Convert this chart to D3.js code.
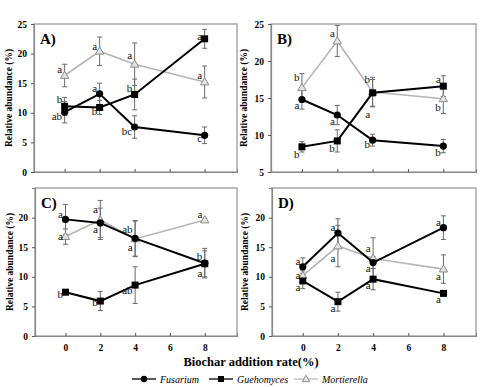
<!DOCTYPE html>
<html>
<head>
<meta charset="utf-8">
<script src="https://cdn.jsdelivr.net/npm/d3@7"></script>
<style>
  body { margin: 0; background: #fff; }
  svg text { font-family: "Liberation Serif", "Times New Roman", serif; }
</style>
</head>
<body>
<svg id="chart" width="489" height="387"></svg>
<script>
// x positions (biochar addition rate, %)
const xValues = [0, 2, 4, 8];
const xTicks = [0, 2, 4, 6, 8];
const panelNames = ["A)", "B)", "C)", "D)"];
const seriesNames = ["Fusarium", "Guehomyces", "Mortierella"];
const yDomains = [[0, 25], [5, 25], [0, 25], [0, 25]];
const yTicks = [[0, 5, 10, 15, 20, 25], [5, 10, 15, 20, 25], [0, 5, 10, 15, 20], [0, 5, 10, 15, 20]];

// means, one row per panel (A, B, C, D)
const fusariumMean = [
  [10.1, 13.2, 7.6, 6.2],
  [14.8, 12.7, 9.3, 8.5],
  [19.7, 19.1, 16.5, 12.3],
  [11.7, 17.4, 12.4, 18.3]
];
const guehomycesMean = [
  [11.1, 10.9, 13.1, 22.5],
  [8.4, 9.2, 15.7, 16.6],
  [7.4, 5.9, 8.6, 12.2],
  [9.3, 5.8, 9.6, 7.2]
];
const mortierellaMean = [
  [16.3, 20.4, 18.2, 15.2],
  [16.4, 22.7, 15.8, 14.9],
  [16.8, 19.6, 16.4, 19.6],
  [10.2, 15.2, 13.1, 11.3]
];

// error bars
const fusariumErr = [
  [1.8, 1.8, 1.9, 1.4],
  [1.3, 1.3, 0.8, 0.9],
  [2.5, 2.5, 3.0, 2.5],
  [1.5, 2.4, 1.0, 2.0]
];
const guehomycesErr = [
  [1.5, 1.2, 2.6, 1.6],
  [0.7, 1.5, 1.8, 1.4],
  [0.2, 1.6, 3.1, 2.2],
  [1.3, 1.6, 1.8, 0.3]
];
const mortierellaErr = [
  [1.9, 2.4, 3.6, 2.7],
  [1.9, 2.1, 2.0, 2.0],
  [1.3, 3.3, 3.0, 0.3],
  [0.8, 3.5, 3.5, 2.4]
];

// significance letters
const fusariumLetters = [
  ["ab", "a", "bc", "c"],
  ["a", "a", "b", "b"],
  ["a", "a", "a", "b"],
  ["a", "a", "a", "a"]
];
const guehomycesLetters = [
  ["b", "b", "b", "a"],
  ["b", "b", "a", "a"],
  ["b", "b", "ab", "a"],
  ["a", "a", "a", "a"]
];
const mortierellaLetters = [
  ["a", "a", "a", "a"],
  ["b", "a", "b", "b"],
  ["a", "a", "ab", "a"],
  ["a", "a", "a", "a"]
];

// layout: letter vertical offsets (px) relative to the point
const fusariumLabelDy = [[4, -6, 4, 3], [6, 6, 4, 6], [-5, 6, 9, -7], [-6, -6, 6, -6]];
const guehomycesLabelDy = [[-7, 4, -6, -3], [7, 7, 21, -7], [2, 1, 5, 9], [6, 6, 6, 6]];
const mortierellaLabelDy = [[-6, -5, -9, -7], [-10, -8, -13, 8], [0, -11, -10, -6], [0, 12, -10, 7]];

// panel boxes
const boxes = [
  {x: 34, y: 24, w: 203, h: 148},
  {x: 271, y: 24, w: 205, h: 148},
  {x: 35, y: 188, w: 202, h: 148},
  {x: 272, y: 188, w: 204, h: 148}
];

const serif = "'Liberation Serif', 'Times New Roman', serif";

const styles = {
  Fusarium: {line: "#000", width: 2},
  Guehomyces: {line: "#000", width: 2},
  Mortierella: {line: "#b5b5b5", width: 1.6}
};

const svg = d3.select("#chart").attr("font-family", serif);

panelNames.forEach((name, p) => {
  const b = boxes[p];
  const g = svg.append("g").attr("transform", `translate(${b.x},${b.y})`);

  const x = d3.scaleLinear().domain([-1.75, 9.85]).range([0, b.w]);
  const y = d3.scaleLinear().domain(yDomains[p]).range([b.h, 0]);

  // frame
  g.append("rect")
    .attr("width", b.w).attr("height", b.h)
    .attr("fill", "none").attr("stroke", "#a8a8a8").attr("stroke-width", 1.5);

  // y axis
  g.append("g")
    .call(d3.axisLeft(y).tickValues(yTicks[p]).tickSize(3).tickPadding(4))
    .attr("font-family", serif)
    .call(a => a.select(".domain").attr("stroke", "#888").attr("stroke-width", 1.2))
    .call(a => a.selectAll(".tick line").attr("stroke", "#555"))
    .call(a => a.selectAll("text")
      .style("font-family", serif)
      .attr("font-weight", "bold").attr("font-size", 9.5).attr("fill", "#000"));

  // x axis
  const bottom = p >= 2;
  g.append("g")
    .attr("transform", `translate(0,${b.h})`)
    .call(d3.axisBottom(x).tickValues(xTicks).tickSize(-3).tickPadding(8)
      .tickFormat(bottom ? d3.format("d") : () => ""))
    .attr("font-family", serif)
    .call(a => a.select(".domain").attr("stroke", "#888").attr("stroke-width", 1.2))
    .call(a => a.selectAll(".tick line").attr("stroke", "#555"))
    .call(a => a.selectAll("text")
      .style("font-family", serif)
      .attr("font-weight", "bold").attr("font-size", 9.5).attr("fill", "#000"));

  // y title
  g.append("text")
    .attr("transform", `translate(${p % 2 === 0 ? -22 : -24},${b.h / 2}) rotate(-90)`)
    .attr("text-anchor", "middle")
    .attr("font-weight", "bold").attr("font-size", 9.5)
    .text("Relative abundance (%)");

  // panel label
  g.append("text")
    .attr("x", 6).attr("y", 19.5)
    .attr("font-weight", "bold").attr("font-size", 15)
    .text(name);

  const series = [
    {key: "Mortierella", mean: mortierellaMean[p], err: mortierellaErr[p], letters: mortierellaLetters[p], dy: mortierellaLabelDy[p]},
    {key: "Guehomyces", mean: guehomycesMean[p], err: guehomycesErr[p], letters: guehomycesLetters[p], dy: guehomycesLabelDy[p]},
    {key: "Fusarium", mean: fusariumMean[p], err: fusariumErr[p], letters: fusariumLetters[p], dy: fusariumLabelDy[p]}
  ];

  const line = d3.line().x(d => x(d.x)).y(d => y(d.v));

  // error bars first
  series.forEach(s => {
    const pts = xValues.map((xv, i) => ({x: xv, v: s.mean[i], e: s.err[i]}));
    const eb = g.append("g").attr("stroke", "#6a6a6a").attr("stroke-width", 1);
    pts.forEach(d => {
      const cx = x(d.x), y1 = y(d.v + d.e), y0 = y(d.v - d.e);
      eb.append("line").attr("x1", cx).attr("x2", cx).attr("y1", y1).attr("y2", y0);
      eb.append("line").attr("x1", cx - 2.5).attr("x2", cx + 2.5).attr("y1", y1).attr("y2", y1);
      eb.append("line").attr("x1", cx - 2.5).attr("x2", cx + 2.5).attr("y1", y0).attr("y2", y0);
    });
  });

  // lines and markers
  series.forEach(s => {
    const pts = xValues.map((xv, i) => ({x: xv, v: s.mean[i]}));
    g.append("path")
      .datum(pts)
      .attr("d", line)
      .attr("fill", "none")
      .attr("stroke", styles[s.key].line)
      .attr("stroke-width", styles[s.key].width);

    const m = g.append("g");
    pts.forEach(d => {
      const cx = x(d.x), cy = y(d.v);
      if (s.key === "Fusarium") {
        m.append("circle").attr("cx", cx).attr("cy", cy).attr("r", 3.6).attr("fill", "#000");
      } else if (s.key === "Guehomyces") {
        m.append("rect").attr("x", cx - 3.5).attr("y", cy - 3.5).attr("width", 7).attr("height", 7).attr("fill", "#000");
      } else {
        m.append("path")
          .attr("d", d3.symbol(d3.symbolTriangle, 30)())
          .attr("transform", `translate(${cx},${cy + 0.5})`)
          .attr("fill", "#e4e4e4").attr("stroke", "#8c8c8c").attr("stroke-width", 1);
      }
    });
  });

  // significance letters
  series.forEach(s => {
    xValues.forEach((xv, i) => {
      g.append("text")
        .attr("x", x(xv) - 2.5)
        .attr("y", y(s.mean[i]) + s.dy[i])
        .attr("dy", "0.35em")
        .attr("text-anchor", "end")
        .attr("font-size", 11)
        .attr("fill", "#111")
        .text(s.letters[i]);
    });
  });
});

// x title
svg.append("text")
  .attr("x", 251).attr("y", 366)
  .attr("text-anchor", "middle")
  .attr("font-weight", "bold").attr("font-size", 12.5)
  .text("Biochar addition rate(%)");

// legend
const legendItems = [
  {key: "Fusarium", x: 132},
  {key: "Guehomyces", x: 209},
  {key: "Mortierella", x: 294}
];
const legend = svg.append("g").attr("transform", "translate(0,379)");
legendItems.forEach(it => {
  const gi = legend.append("g").attr("transform", `translate(${it.x},0)`);
  gi.append("line").attr("x1", 0).attr("x2", 24).attr("y1", 0).attr("y2", 0)
    .attr("stroke", styles[it.key].line).attr("stroke-width", it.key === "Mortierella" ? 1.2 : 1.3);
  if (it.key === "Fusarium") {
    gi.append("circle").attr("cx", 12).attr("cy", 0).attr("r", 3.2).attr("fill", "#000");
  } else if (it.key === "Guehomyces") {
    gi.append("rect").attr("x", 9).attr("y", -3).attr("width", 6).attr("height", 6).attr("fill", "#000");
  } else {
    gi.append("path").attr("d", d3.symbol(d3.symbolTriangle, 24)())
      .attr("transform", "translate(12,0.5)")
      .attr("fill", "#e4e4e4").attr("stroke", "#8c8c8c");
  }
  gi.append("text")
    .attr("x", 28).attr("y", 0).attr("dy", "0.35em")
    .attr("font-style", "italic").attr("font-size", 10)
    .text(it.key);
});
</script>
</body>
</html>
